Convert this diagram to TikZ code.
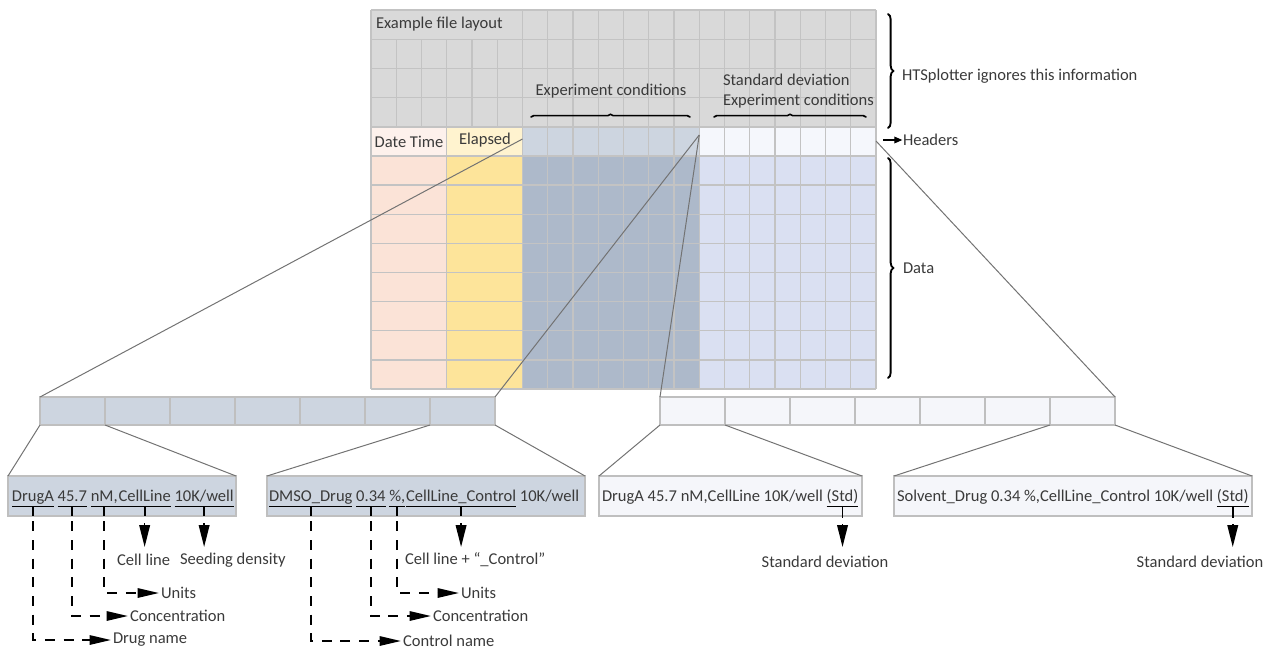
\documentclass[tikz,border=0pt]{standalone}
\usepackage{fontspec}
\setmainfont{Carlito}
\usetikzlibrary{arrows.meta,decorations.pathreplacing,calc}
\definecolor{cTop}{HTML}{D9D9D9}
\definecolor{cGrid}{HTML}{C3C3C3}
\definecolor{cHdDT}{HTML}{FDF1EC}
\definecolor{cHdEL}{HTML}{FFF3CF}
\definecolor{cHdEX}{HTML}{CDD5E0}
\definecolor{cHdSD}{HTML}{F5F7FC}
\definecolor{cDT}{HTML}{FBE3D7}
\definecolor{cEL}{HTML}{FDE49A}
\definecolor{cEX}{HTML}{ADB9CA}
\definecolor{cSD}{HTML}{DAE0F2}
\definecolor{cBox}{HTML}{CDD5E0}
\definecolor{cBoxR}{HTML}{F5F6FA}
\definecolor{cBorder}{HTML}{BFBFBF}
\definecolor{cLine}{HTML}{737373}
\definecolor{cText}{HTML}{3A3A3A}
\tikzset{
  grid/.style={draw=cGrid, line width=1.1pt},
  lbl/.style={inner sep=0pt, outer sep=0pt, text=cText},
  wrd/.style={anchor=base west, inner sep=0pt, outer sep=0pt, text=cText},
  lcell/.style={draw=cBorder, fill=cBox, line width=0.9pt, minimum width=48.75pt, minimum height=21pt, inner sep=0pt, outer sep=0pt},
  rcell/.style={lcell, fill=cBoxR},
  boxl/.style={draw=cBorder, fill=cBox, line width=0.9pt, minimum height=30pt, inner sep=0pt, outer sep=0pt},
  boxr/.style={boxl, fill=cBoxR},
  zl/.style={draw=cLine, line width=0.75pt},
  uline/.style={draw=black, line width=0.9pt},
  tick/.style={draw=black, line width=1.3pt},
  dline/.style={draw=black, line width=1.4pt, dash pattern=on 7.5pt off 6.5pt, dash phase=10pt, -{Triangle[length=16pt,width=7pt]}, shorten >=1.5pt},
  darrow/.style={draw=black, line width=1.2pt, -{Triangle[length=16.5pt,width=8pt]}},
  harrow/.style={draw=black, line width=0.9pt, -{Triangle[length=6pt,width=5pt]}, shorten >=0.5pt},
  brc/.style={draw=black, line width=1.4pt, line cap=round, decorate, decoration={brace, amplitude=#1}},
}
\begin{document}
\begin{tikzpicture}[x=0.75pt, y=-0.75pt, font=\fontsize{12.4}{15}\selectfont]
\useasboundingbox (0,0) rectangle (1273,650);

% ---------- table fills ----------
\fill[cTop] (371,10) rectangle (876,127);
\fill[cHdDT] (371,127) rectangle (446.75,156);
\fill[cHdEL] (446.75,127) rectangle (522.5,156);
\fill[cHdEX] (522.5,127) rectangle (699.25,156);
\fill[cHdSD] (699.25,127) rectangle (876,156);
\fill[cDT] (371,156) rectangle (446.75,389);
\fill[cEL] (446.75,156) rectangle (522.5,389);
\fill[cEX] (522.5,156) rectangle (699.25,389);
\fill[cSD] (699.25,156) rectangle (876,389);

% ---------- grid ----------
\foreach \y in {10,39.25,68.5,97.75,127,156} \draw[grid] (371,\y) -- (876,\y);
\foreach \k in {1,...,8} \draw[grid] (371,{156+29.125*\k}) -- (876,{156+29.125*\k});
\foreach \j in {6,...,20} \draw[grid] ({371+25.25*\j},10) -- ({371+25.25*\j},389);
\foreach \j in {1,2,4,5} \draw[grid] ({371+25.25*\j},39.25) -- ({371+25.25*\j},127);
\draw[grid] (446.75,39.25) -- (446.75,389);
\draw[grid] (371,10) -- (371,389);

% ---------- table texts ----------
\node[lbl, anchor=west] (tEx) at (376,24) {Example file layout};
\node[lbl] (tDT) at (409,141.5) {Date Time};
\node[lbl] (tEL) at (485,140) {Elapsed};
\node[lbl] (tEC) at (611,91.5) {Experiment conditions};
\node[lbl, anchor=west, align=left] (tSD) at (723,91.5) {Standard deviation\\Experiment conditions};
\draw[brc=2pt, line width=1.2pt] (531,117) -- (690,117);
\draw[brc=2pt, line width=1.2pt] (714,117) -- (866,117);

% ---------- right braces ----------
\draw[brc=4pt] (888,14) -- (888,128);
\draw[brc=4pt] (888,158) -- (888,378);
\node[lbl, anchor=west] (tHT) at (902,76) {HTSplotter ignores this information};
\node[lbl, anchor=west] (tHd) at (903,140) {Headers};
\node[lbl, anchor=west] (tDa) at (903,268) {Data};
\coordinate (hA) at (883,140);
\draw[harrow] (hA) -- (tHd.west);

% ---------- strips ----------
\foreach \k in {1,...,7} \node[lcell] (L\k) at ({7.5+65*\k},411) {};
\foreach \k in {1,...,7} \node[rcell] (R\k) at ({627.5+65*\k},411) {};

% ---------- boxes ----------
\node[boxl, minimum width=171pt] (B1) at (122,496) {};
\node[boxl, minimum width=238.5pt] (B2) at (426,496) {};
\node[boxr, minimum width=197.25pt] (B3) at (730.5,496) {};
\node[boxr, minimum width=268.5pt] (B4) at (1073,496) {};

% ---------- zoom lines ----------
\coordinate (zA) at (522.5,139);
\coordinate (zB) at (699.25,135);
\coordinate (zC) at (876,141);
\draw[zl] (zA) -- (L1.north west);
\draw[zl] (zB) -- (L7.north east);
\draw[zl] (zB) -- (R1.north west);
\draw[zl] (zC) -- (R7.north east);
\draw[zl] (L1.south west) -- (B1.north west);
\draw[zl] (L1.south east) -- (B1.north east);
\draw[zl] (L7.south west) -- (B2.north west);
\draw[zl] (L7.south east) -- (B2.north east);
\draw[zl] (R1.south west) -- (B3.north west);
\draw[zl] (R1.south east) -- (B3.north east);
\draw[zl] (R7.south west) -- (B4.north west);
\draw[zl] (R7.south east) -- (B4.north east);

% ---------- box 1 words ----------
\node[wrd] (a1) at (12,501) {DrugA};
\node[wrd] (a2) at ([xshift=2.8pt]a1.base east) {45.7};
\node[wrd] (a3) at ([xshift=2.8pt]a2.base east) {nM,};
\node[wrd] (a4) at ([xshift=0.6pt]a3.base east) {CellLine};
\node[wrd] (a5) at ([xshift=2.8pt]a4.base east) {10K/well};
\foreach \w in {a1,a2,a3,a4,a5} {
  \draw[uline] ([yshift=-4pt]\w.base west) -- ([yshift=-4pt]\w.base east);
  \draw[tick] ([yshift=-4pt]\w.base) -- (\w.base |- B1.south);
}
% ---------- box 2 words ----------
\node[wrd] (b1) at (269,501) {DMSO\_Drug};
\node[wrd] (b2) at ([xshift=2.8pt]b1.base east) {0.34};
\node[wrd] (b3) at ([xshift=2.8pt]b2.base east) {\%,};
\node[wrd] (b4) at ([xshift=0.6pt]b3.base east) {CellLine\_Control};
\node[wrd] (b5) at ([xshift=2.8pt]b4.base east) {10K/well};
\foreach \w in {b1,b2,b3,b4} {
  \draw[uline] ([yshift=-4pt]\w.base west) -- ([yshift=-4pt]\w.base east);
  \draw[tick] ([yshift=-4pt]\w.base) -- (\w.base |- B2.south);
}
% ---------- box 3 / 4 words ----------
\node[wrd] (c1) at (602,501) {DrugA 45.7 nM,CellLine 10K/well};
\node[wrd] (c2) at ([xshift=2.8pt]c1.base east) {(Std)};
\node[wrd] (e1) at (897,501) {Solvent\_Drug 0.34 \%,CellLine\_Control 10K/well};
\node[wrd] (e2) at ([xshift=2.8pt]e1.base east) {(Std)};
\draw[uline] ([yshift=-4pt]c2.base west) -- ([yshift=-4pt]c2.base east);
\draw[tick] ([yshift=-4pt]c2.base) -- ($(c2.base |- B3.south)+(0,2)$);
\draw[uline] ([yshift=-4pt]e2.base west) -- ([yshift=-4pt]e2.base east);
\draw[tick] ([yshift=-4pt]e2.base) -- ($(e2.base |- B4.south)+(0,2)$);

% ---------- labels ----------
\node[lbl, anchor=west] (lDrug) at (113,640) {Drug name};
\node[lbl, anchor=west] (lConc1) at (130,616) {Concentration};
\node[lbl, anchor=west] (lUnit1) at (161,593) {Units};
\node[lbl] (lCell) at (143.6,560) {Cell line};
\node[lbl, anchor=west] (lSeed) at (180,560) {Seeding density};
\node[lbl, anchor=west] (lCtrl) at (403,641) {Control name};
\node[lbl, anchor=west] (lConc2) at (433,616) {Concentration};
\node[lbl, anchor=west] (lUnit2) at (461,593) {Units};
\node[lbl, anchor=west] (lCellC) at (405,560) {Cell line + “\_Control”};
\node[lbl] (lSD1) at (825,562) {Standard deviation};
\node[lbl] (lSD2) at (1200,562) {Standard deviation};

% ---------- dashed connectors ----------
\draw[dline] (a1.base |- B1.south) |- (lDrug.west);
\draw[dline] (a2.base |- B1.south) |- (lConc1.west);
\draw[dline] (a3.base |- B1.south) |- (lUnit1.west);
\draw[dline] (b1.base |- B2.south) |- (lCtrl.west);
\draw[dline] (b2.base |- B2.south) |- (lConc2.west);
\draw[dline] (b3.base |- B2.south) |- (lUnit2.west);

% ---------- down arrows ----------
\draw[darrow] ($(a4.base |- B1.south)+(0,7)$) -- ($(a4.base |- B1.south)+(0,31)$);
\draw[darrow] ($(a5.base |- B1.south)+(0,7)$) -- ($(a5.base |- B1.south)+(0,31)$);
\draw[darrow] ($(b4.base |- B2.south)+(0,7)$) -- ($(b4.base |- B2.south)+(0,31)$);
\draw[darrow] ($(c2.base |- B3.south)+(0,8)$) -- ($(c2.base |- B3.south)+(0,31)$);
\draw[darrow] ($(e2.base |- B4.south)+(0,8)$) -- ($(e2.base |- B4.south)+(0,31)$);
\end{tikzpicture}
\end{document}
